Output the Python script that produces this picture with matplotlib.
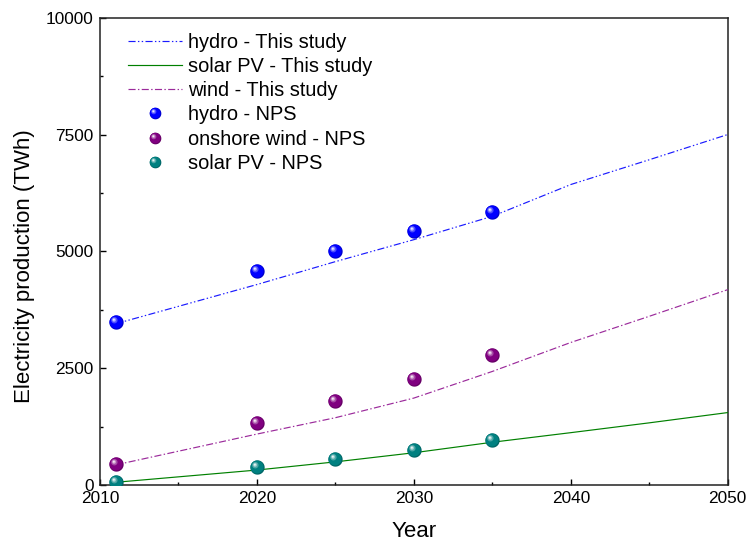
import numpy as np
import matplotlib
matplotlib.use("Agg")
import matplotlib.pyplot as plt
from matplotlib.path import Path
from matplotlib.lines import Line2D
from matplotlib.legend_handler import HandlerTuple
from matplotlib.ticker import MultipleLocator
import matplotlib.colors as mcolors

plt.rcParams['font.family'] = ['Liberation Sans', 'DejaVu Sans']

# ---- data ----
study_years = [2011, 2020, 2025, 2030, 2035, 2040, 2045, 2050]
hydro_study = [3450, 4290, 4780, 5250, 5750, 6430, 6960, 7500]
solar_study = [58, 320, 495, 690, 915, 1120, 1330, 1550]
wind_study = [430, 1090, 1440, 1860, 2430, 3050, 3610, 4180]

nps_years = [2011, 2020, 2025, 2030, 2035]
hydro_nps = [3490, 4586, 5014, 5443, 5840]
wind_nps = [443, 1328, 1800, 2271, 2779]
solar_nps = [71, 392, 557, 750, 957]

x_ticks = [2010, 2020, 2030, 2040, 2050]
y_ticks = [0, 2500, 5000, 7500, 10000]

fig = plt.figure(figsize=(7.49, 5.45), dpi=100)
ax = fig.add_axes([100/749, (545-485)/545, (727.7-100)/749, (485-17.7)/545])


def circ_path(cx, cy, r):
    t = np.linspace(0, 2*np.pi, 60)
    verts = np.column_stack([cx + r*np.cos(t), cy + r*np.sin(t)])
    codes = [Path.MOVETO] + [Path.LINETO]*(len(verts)-2) + [Path.CLOSEPOLY]
    verts = np.vstack([verts, [[1, 0], [-1, 0]]])
    codes = codes + [Path.MOVETO, Path.MOVETO]
    return Path(verts, codes)


def blend(c, w):
    c = np.array(mcolors.to_rgb(c))
    return tuple(c*(1-w) + np.ones(3)*w)


def darken(c, w):
    c = np.array(mcolors.to_rgb(c))
    return tuple(c*(1-w))


layers = [
    (0.0, 0.0, 1.0, lambda c: darken(c, 0.2)),
    (-0.07, 0.07, 0.9, lambda c: c),
    (-0.3, 0.32, 0.45, lambda c: blend(c, 0.3)),
    (-0.34, 0.36, 0.28, lambda c: blend(c, 0.6)),
    (-0.37, 0.39, 0.14, lambda c: blend(c, 0.92)),
]


def ball(x, y, color, ms, zorder=5):
    handles = []
    for cx, cy, r, f in layers:
        h, = ax.plot(x, y, linestyle='none', marker=circ_path(cx, cy, r),
                     markersize=ms, markerfacecolor=f(color),
                     markeredgewidth=0, zorder=zorder)
        handles.append(h)
    return handles


l1, = ax.plot(study_years, hydro_study, color='#1a1aff', lw=0.85,
              dashes=(6, 2, 1.2, 2, 1.2, 2), zorder=3)
l2, = ax.plot(study_years, solar_study, color='#008000', lw=0.85, zorder=3)
l3, = ax.plot(study_years, wind_study, color='#9b2a9b', lw=0.85,
              dashes=(6, 2, 1.2, 2), zorder=3)

ms = 10.3
b1 = ball(nps_years, hydro_nps, '#0000ff', ms)
b2 = ball(nps_years, wind_nps, '#800080', ms)
b3 = ball(nps_years, solar_nps, '#008080', ms)

ax.set_xlim(2010, 2050)
ax.set_ylim(0, 10000)
ax.set_xticks(x_ticks)
ax.set_yticks(y_ticks)
ax.xaxis.set_minor_locator(MultipleLocator(5))
ax.yaxis.set_minor_locator(MultipleLocator(1250))
ax.tick_params(which='major', direction='in', length=4.3, width=1.0,
               labelsize=12.4, pad=4.5)
ax.tick_params(which='minor', direction='in', length=2.3, width=1.0)
for s in ax.spines.values():
    s.set_linewidth(1.1)
    s.set_color('#222222')

ax.set_xlabel('Year', fontsize=16)
ax.set_ylabel('Electricity production (TWh)', fontsize=16)
ax.xaxis.set_label_coords(0.5, -0.078)
ax.yaxis.set_label_coords(-0.104, 0.4676)


def small_tuple(handles):
    out = []
    for h in handles:
        nh = Line2D([], [], linestyle='none', marker=h.get_marker(),
                    markersize=8.4, markerfacecolor=h.get_markerfacecolor(),
                    markeredgewidth=0)
        out.append(nh)
    return tuple(out)


hs = [l1, l2, l3, small_tuple(b1), small_tuple(b2), small_tuple(b3)]
labels = ['hydro - This study', 'solar PV - This study', 'wind - This study',
          'hydro - NPS', 'onshore wind - NPS', 'solar PV - NPS']
leg = ax.legend(hs, labels, loc='upper left', bbox_to_anchor=(0.0446, 0.9677),
                frameon=False, fontsize=14.4, handlelength=2.7, handletextpad=0.3,
                labelspacing=0.26, borderpad=0, borderaxespad=0,
                handler_map={tuple: HandlerTuple(ndivide=1)})

fig.savefig('out.png', dpi=100)
